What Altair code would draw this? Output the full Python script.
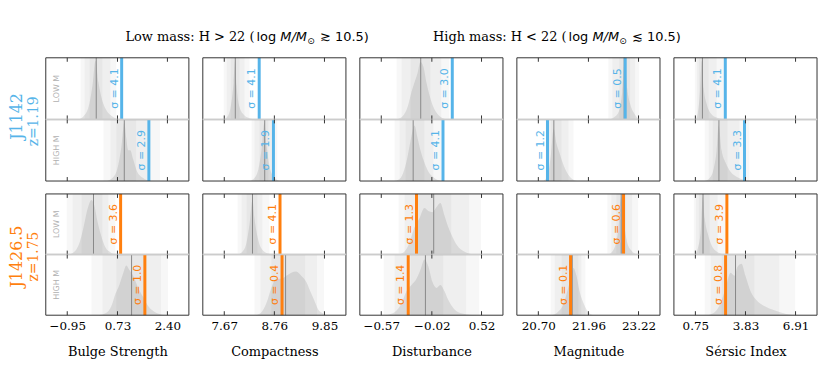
import altair as alt
import pandas as pd

CLUSTERS = ["J1142", "J1426.5"]
REDSHIFTS = ["z=1.19", "z=1.75"]
CLUSTER_COLORS = ["#56B4E9", "#FF7F0E"]
MASS_BINS = ["LOW M", "HIGH M"]
COLUMNS = ["Bulge Strength", "Compactness", "Disturbance", "Magnitude", "Sérsic Index"]
TICKS = [[-0.95, 0.73, 2.40], [7.67, 8.76, 9.85], [-0.57, -0.02, 0.52],
         [20.70, 21.96, 23.22], [0.75, 3.83, 6.91]]
DOMAINS = [[-1.668, 3.118], [7.203, 10.317], [-0.803, 0.753], [20.16, 23.76], [-0.57, 8.23]]
TITLE_LOW = ["Low mass: H > 22 (", "log", "M/M", "⊙", "≳ 10.5)"]
TITLE_HIGH = ["High mass: H < 22 (", "log", "M/M", "⊙", "≲ 10.5)"]

# rows: J1142 low M, J1142 high M, J1426.5 low M, J1426.5 high M
SIGMA = [[4.1, 4.1, 3.0, 0.5, 4.1],
         [2.9, 1.9, 4.1, 1.2, 3.3],
         [3.6, 4.1, 1.3, 0.6, 3.9],
         [1.0, 0.4, 1.4, 0.1, 0.8]]
SIGMA_POS = [[0.87, 8.43, 0.202, 22.885, 2.59],
             [1.78, 8.74, 0.101, 20.93, 3.77],
             [0.835, 8.883, -0.187, 22.843, 2.687],
             [1.646, 8.927, -0.277, 21.51, 2.607]]
MEDIAN = [[0.02, 7.91, -0.141, 22.86, 1.184],
          [0.958, 8.55, -0.223, 21.09, 2.198],
          [-0.072, 8.284, 0.0, 22.785, 1.22],
          [1.201, 9.004, -0.09, 21.553, 3.218]]
# percentile bands: lo99, hi99, lo95, hi95, lo68, hi68
BANDS = [
    [[-0.505, 0.692, -0.372, 0.493, -0.205, 0.227],
     [7.657, 8.219, 7.722, 8.111, 7.809, 8.003],
     [-0.403, 0.170, -0.349, 0.083, -0.252, -0.036],
     [22.46, 23.235, 22.56, 23.135, 22.735, 23.01],
     [0.713, 2.546, 0.835, 2.057, 0.958, 1.569]],
    [[0.260, 2.155, 0.493, 1.756, 0.692, 1.357],
     [8.263, 8.825, 8.327, 8.738, 8.436, 8.630],
     [-0.425, 0.083, -0.371, -0.003, -0.306, -0.101],
     [20.885, 21.585, 20.96, 21.46, 21.01, 21.285],
     [1.324, 4.074, 1.569, 3.463, 1.813, 2.729]],
    [[-0.970, 0.659, -0.771, 0.426, -0.471, 0.227],
     [7.960, 8.652, 8.046, 8.500, 8.154, 8.392],
     [-0.382, 0.515, -0.317, 0.386, -0.187, 0.191],
     [22.435, 23.21, 22.535, 23.06, 22.66, 22.91],
     [0.652, 2.607, 0.774, 2.118, 0.958, 1.630]],
    [[-0.139, 2.421, 0.227, 2.188, 0.692, 1.689],
     [8.327, 9.841, 8.457, 9.690, 8.695, 9.430],
     [-0.544, 0.494, -0.425, 0.353, -0.252, 0.105],
     [21.01, 21.885, 21.11, 21.785, 21.285, 21.71],
     [1.324, 6.884, 1.691, 5.907, 2.363, 4.379]],
]
DENS_X = [
    [[-0.571, -0.405, -0.239, -0.106, -0.006, 0.094, 0.227, 0.360, 0.526, 0.759],
     [7.657, 7.744, 7.809, 7.873, 7.906, 7.938, 8.003, 8.090, 8.219, 8.349],
     [-0.403, -0.338, -0.284, -0.241, -0.209, -0.176, -0.144, -0.111, -0.079, -0.047, -0.003, 0.051, 0.137],
     [22.485, 22.635, 22.735, 22.81, 22.873, 22.935, 23.01, 23.11, 23.235],
     [0.774, 0.896, 1.019, 1.141, 1.263, 1.446, 1.691, 2.057, 2.546]],
    [[0.360, 0.559, 0.725, 0.858, 0.958, 1.024, 1.091, 1.157, 1.257, 1.390, 1.590, 1.822],
     [8.219, 8.327, 8.414, 8.479, 8.544, 8.587, 8.652, 8.738, 8.868],
     [-0.425, -0.360, -0.317, -0.284, -0.252, -0.209, -0.176, -0.144, -0.101, -0.057, 0.007, 0.083],
     [20.835, 20.935, 21.01, 21.085, 21.16, 21.235, 21.31, 21.41, 21.535, 21.685],
     [1.324, 1.630, 1.874, 2.057, 2.180, 2.363, 2.607, 2.913, 3.279, 3.768, 4.135]],
    [[-0.903, -0.704, -0.538, -0.405, -0.272, -0.139, -0.039, 0.060, 0.193, 0.326, 0.493, 0.692],
     [7.960, 8.068, 8.154, 8.219, 8.284, 8.327, 8.392, 8.479, 8.609, 8.717],
     [-0.382, -0.317, -0.263, -0.209, -0.155, -0.101, -0.057, -0.014, 0.029, 0.072, 0.116, 0.159, 0.202, 0.256, 0.332, 0.440],
     [22.46, 22.56, 22.635, 22.71, 22.785, 22.86, 22.935, 23.035, 23.185],
     [0.713, 0.896, 1.080, 1.202, 1.324, 1.507, 1.752, 2.057, 2.546]],
    [[0.094, 0.360, 0.526, 0.659, 0.792, 0.925, 1.024, 1.124, 1.257, 1.423, 1.590, 1.756, 1.988, 2.354],
     [8.349, 8.479, 8.587, 8.695, 8.803, 8.911, 9.020, 9.128, 9.236, 9.344, 9.452, 9.539, 9.625, 9.711, 9.820, 9.906],
     [-0.533, -0.425, -0.349, -0.295, -0.241, -0.187, -0.144, -0.101, -0.057, -0.014, 0.029, 0.072, 0.116, 0.159, 0.224, 0.310, 0.462],
     [21.035, 21.185, 21.31, 21.41, 21.51, 21.585, 21.66, 21.735, 21.835, 21.935, 22.085],
     [1.446, 1.935, 2.302, 2.607, 2.913, 3.157, 3.340, 3.585, 3.829, 4.135, 4.501, 4.990, 5.601, 6.334, 6.945]],
]
DENS_Y = [
    [[0, 0.05, 0.2, 0.55, 0.95, 0.6, 0.3, 0.15, 0.06, 0],
     [0, 0.05, 0.2, 0.6, 0.95, 0.55, 0.2, 0.08, 0.02, 0],
     [0, 0.05, 0.2, 0.45, 0.6, 0.75, 0.93, 0.85, 0.6, 0.4, 0.2, 0.07, 0],
     [0, 0.05, 0.15, 0.45, 0.95, 0.5, 0.25, 0.1, 0],
     [0, 0.1, 0.4, 0.95, 0.5, 0.25, 0.1, 0.03, 0]],
    [[0, 0.05, 0.2, 0.55, 0.95, 0.7, 0.5, 0.5, 0.35, 0.15, 0.05, 0],
     [0, 0.05, 0.2, 0.5, 0.95, 0.6, 0.25, 0.08, 0],
     [0, 0.05, 0.2, 0.4, 0.65, 0.9, 0.7, 0.5, 0.3, 0.15, 0.05, 0],
     [0, 0.1, 0.4, 0.85, 0.6, 0.45, 0.3, 0.15, 0.04, 0],
     [0, 0.05, 0.2, 0.5, 0.9, 0.5, 0.3, 0.15, 0.07, 0.02, 0]],
    [[0, 0.05, 0.2, 0.45, 0.75, 0.9, 0.8, 0.55, 0.3, 0.12, 0.04, 0],
     [0, 0.05, 0.2, 0.5, 0.9, 0.6, 0.3, 0.1, 0.02, 0],
     [0, 0.05, 0.2, 0.45, 0.6, 0.77, 0.72, 0.7, 0.78, 0.85, 0.65, 0.45, 0.3, 0.15, 0.05, 0],
     [0, 0.05, 0.15, 0.4, 0.95, 0.5, 0.2, 0.07, 0],
     [0, 0.1, 0.4, 0.95, 0.6, 0.35, 0.15, 0.05, 0]],
    [[0, 0.04, 0.15, 0.35, 0.5, 0.7, 0.82, 0.75, 0.65, 0.45, 0.3, 0.15, 0.05, 0],
     [0, 0.05, 0.2, 0.45, 0.6, 0.6, 0.65, 0.7, 0.72, 0.65, 0.55, 0.4, 0.25, 0.1, 0.03, 0],
     [0, 0.05, 0.2, 0.4, 0.5, 0.6, 0.75, 0.92, 0.8, 0.55, 0.45, 0.5, 0.4, 0.25, 0.1, 0.03, 0],
     [0, 0.05, 0.15, 0.35, 0.6, 0.78, 0.65, 0.4, 0.2, 0.07, 0],
     [0, 0.05, 0.2, 0.45, 0.7, 0.65, 0.8, 0.85, 0.65, 0.4, 0.25, 0.15, 0.08, 0.02, 0]],
]

W = 144
HEIGHTS = [62, 62, 61, 61]
DARK = "#333333"
LIGHT = "#cccccc"
SERIF = "DejaVu Serif"
SANS = "DejaVu Sans"


def one():
    return pd.DataFrame({"d": [0]})


def txt(s, x, y, **kw):
    return alt.Chart(one()).mark_text(text=s, **kw).encode(x=alt.value(x), y=alt.value(y))


def edge(color, sw, x, y, x2=None, y2=None):
    enc = dict(x=alt.value(x), y=alt.value(y))
    if x2 is not None:
        enc["x2"] = alt.value(x2)
    if y2 is not None:
        enc["y2"] = alt.value(y2)
    return alt.Chart(one()).mark_rule(color=color, strokeWidth=sw).encode(**enc)


def blank(h):
    return alt.Chart(one()).mark_rule(opacity=0, strokeWidth=0.5).encode(
        x=alt.value(20), x2=alt.value(40), y=alt.value(h / 2)).properties(width=W, height=h)


def header():
    layers = []
    for parts, off in [(TITLE_LOW, 0), (TITLE_HIGH, 314)]:
        y = 32
        common = dict(baseline="alphabetic", color="black")
        layers.append(txt(parts[0], 210 + off, y, align="right", font=SERIF, fontSize=13, **common))
        layers.append(txt(parts[1], 212 + off, y, align="left", font=SANS, fontSize=13, **common))
        layers.append(txt(parts[2], 236 + off, y, align="left", font=SANS, fontSize=13,
                          fontStyle="italic", **common))
        layers.append(txt(parts[3], 263 + off, y + 3, align="left", font=SANS, fontSize=9, **common))
        layers.append(txt(parts[4], 276 + off, y, align="left", font=SANS, fontSize=13, **common))
    return alt.layer(*layers).properties(width=W, height=49)


def panel(r, c):
    h = HEIGHTS[r]
    color = CLUSTER_COLORS[r // 2]
    xs = alt.Scale(domain=DOMAINS[c], nice=False, zero=False)
    if r == 3:
        ax = alt.Axis(values=TICKS[c], format=".2f", ticks=False, tickSize=0, domain=False, grid=False,
                      labelFont=SERIF, labelFontSize=12, labelColor="black", labelPadding=5,
                      labelFlush=False, title=COLUMNS[c], titleFont=SERIF, titleFontSize=13,
                      titleFontWeight="normal", titleColor="black", titlePadding=15)
    else:
        ax = None

    def X(f):
        return alt.X(f, type="quantitative", scale=xs, axis=ax)

    b = BANDS[r][c]
    bands = alt.Chart(pd.DataFrame({"lo": b[0::2], "hi": b[1::2]})).mark_rect(
        color="black", opacity=0.03).encode(x=X("lo"), x2="hi", y=alt.value(0), y2=alt.value(h))
    dens = alt.Chart(pd.DataFrame({"v": DENS_X[r][c], "p": DENS_Y[r][c]})).mark_area(
        color="black", opacity=0.09, interpolate="monotone").encode(
        x=X("v"), y=alt.Y("p:Q", scale=alt.Scale(domain=[0, 1]), axis=None))
    med = alt.Chart(pd.DataFrame({"m": [MEDIAN[r][c]]})).mark_rule(
        color="#888888", strokeWidth=1).encode(x=X("m"), y=alt.value(0), y2=alt.value(h))
    sdf = pd.DataFrame({"s": [SIGMA_POS[r][c]], "label": [f"σ = {SIGMA[r][c]:.1f}"]})
    sline = alt.Chart(sdf).mark_rule(color=color, strokeWidth=3).encode(
        x=X("s"), y=alt.value(0), y2=alt.value(h))
    stext = alt.Chart(sdf).mark_text(angle=270, baseline="bottom", align="center", dy=-2,
                                     color=color, font=SANS, fontSize=11).encode(
        x=X("s"), y=alt.value(h / 2), text="label:N")
    tdf = pd.DataFrame({"t": TICKS[c]})
    ttop = alt.Chart(tdf).mark_rule(color=DARK, strokeWidth=1).encode(
        x=X("t"), y=alt.value(0), y2=alt.value(4))
    tbot = alt.Chart(tdf).mark_rule(color=DARK, strokeWidth=1).encode(
        x=X("t"), y=alt.value(h - 4), y2=alt.value(h))
    top_col, top_w = (LIGHT, 1.5) if r % 2 == 1 else (DARK, 1)
    bot_col, bot_w = (LIGHT, 1.5) if r % 2 == 0 else (DARK, 1)
    frame = [edge(DARK, 1, 0, 0, y2=h), edge(DARK, 1, W, 0, y2=h),
             edge(top_col, top_w, 0, 0, x2=W), edge(bot_col, bot_w, 0, h, x2=W)]
    layers = [bands, dens, med, sline, stext] + frame + [ttop, tbot]
    if c == 0:
        layers.append(txt(MASS_BINS[r % 2], 11, h / 2, angle=270, align="center", baseline="middle",
                          font=SANS, fontSize=8, color="#b0b0b0"))
        if r % 2 == 0:
            k = r // 2
            layers.append(txt(CLUSTERS[k], -24, h - 3 if k == 0 else h + 2, angle=270, align="center",
                              baseline="alphabetic", font=SERIF, fontSize=16, color=CLUSTER_COLORS[k]))
            layers.append(txt(REDSHIFTS[k], -8, h + 2, angle=270, align="center",
                              baseline="alphabetic", font=SERIF, fontSize=14, color=CLUSTER_COLORS[k]))
    return alt.layer(*layers).properties(width=W, height=h)


cells = [header()] + [blank(49) for _ in range(4)]
for r in range(4):
    if r == 2:
        cells += [blank(13) for _ in range(5)]
    cells += [panel(r, c) for c in range(5)]

chart = alt.concat(*cells, columns=5, spacing={"row": 0, "column": 14}, bounds="flush").properties(
    padding={"left": 1, "top": 0, "right": 4, "bottom": 4}, background="white"
).configure_view(strokeWidth=0)

chart.save("out.html", embed_options={"renderer": "svg", "actions": False})
